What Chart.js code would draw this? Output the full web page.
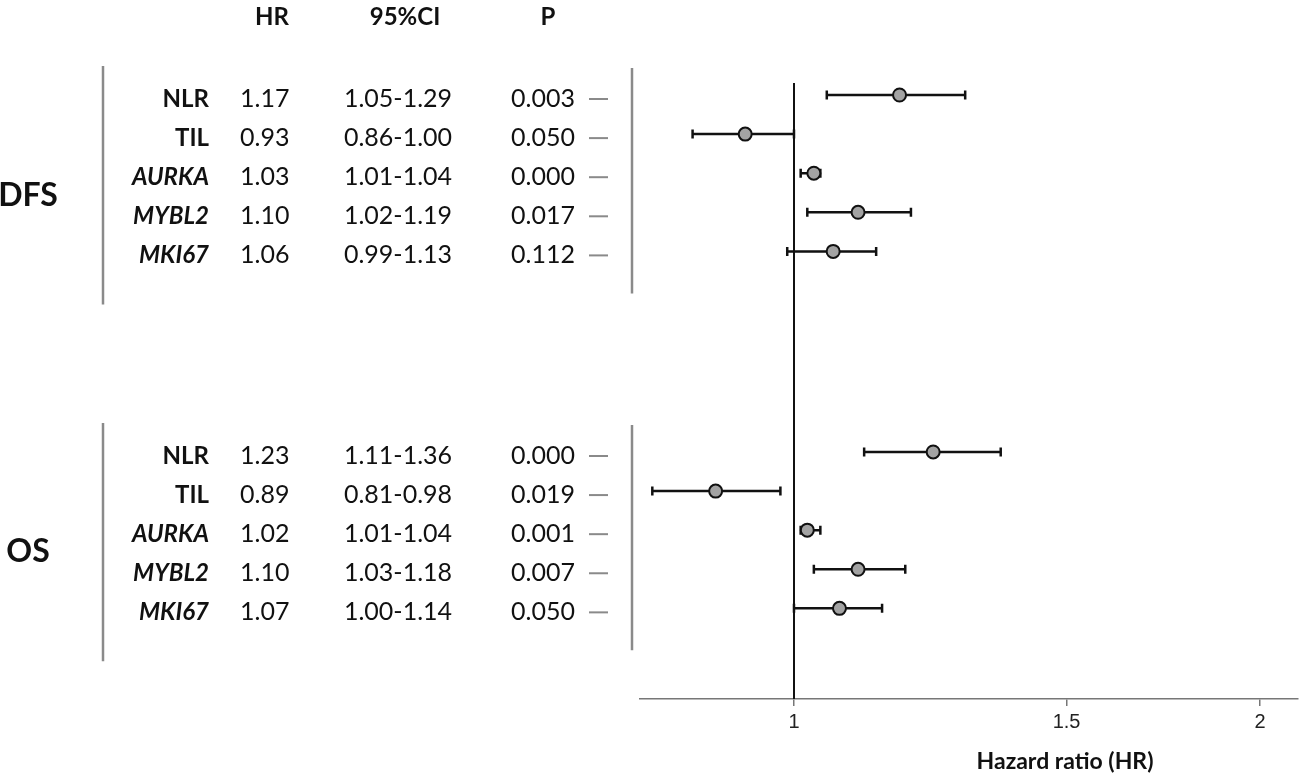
<!DOCTYPE html>
<html>
<head>
<meta charset="utf-8">
<script src="https://cdn.jsdelivr.net/npm/chart.js@4.4.1/dist/chart.umd.min.js"></script>
<style>
  html, body { margin: 0; padding: 0; background: #ffffff; }
  #wrap { width: 1299px; height: 779px; position: relative; }
</style>
</head>
<body>
<div id="wrap"><canvas id="c" width="1299" height="779"></canvas></div>
<script>
// ---- data ----
const groups = ["DFS", "OS"];
const variables = ["NLR", "TIL", "AURKA", "MYBL2", "MKI67"];
const italicVars = ["AURKA", "MYBL2", "MKI67"];
const dfsHR = [1.17, 0.93, 1.03, 1.10, 1.06];
const dfsLow = [1.05, 0.86, 1.01, 1.02, 0.99];
const dfsHigh = [1.29, 1.00, 1.04, 1.19, 1.13];
const dfsP = ["0.003", "0.050", "0.000", "0.017", "0.112"];
const osHR = [1.23, 0.89, 1.02, 1.10, 1.07];
const osLow = [1.11, 0.81, 1.01, 1.03, 1.00];
const osHigh = [1.36, 0.98, 1.04, 1.18, 1.14];
const osP = ["0.000", "0.019", "0.001", "0.007", "0.050"];
const xTicks = [1, 1.5, 2];
const xTickLabels = ["1", "1.5", "2"];
const headers = ["HR", "95%CI", "P"];
const axisTitle = "Hazard ratio (HR)";

// ---- layout constants ----
const GROUP_OFFSET = 9.13; // row units between first DFS row and first OS row
const FONT = "Lato, 'Open Sans', sans-serif";

const rows = [];
[[dfsHR, dfsLow, dfsHigh, dfsP], [osHR, osLow, osHigh, osP]].forEach((g, gi) => {
  variables.forEach((v, i) => {
    rows.push({ group: gi, name: v, hr: g[0][i], lo: g[1][i], hi: g[2][i], p: g[3][i], pos: gi * GROUP_OFFSET + i });
  });
});
const fmt = v => v.toFixed(2);

const forestPlugin = {
  id: 'forest',
  beforeDatasetsDraw(chart) {
    const ctx = chart.ctx, xs = chart.scales.x, ys = chart.scales.y, area = chart.chartArea;
    ctx.save();
    // reference line at HR = 1
    ctx.strokeStyle = '#111';
    ctx.lineWidth = 2;
    const x1 = Math.round(xs.getPixelForValue(1));
    ctx.beginPath();
    ctx.moveTo(x1, area.top);
    ctx.lineTo(x1, area.bottom);
    ctx.stroke();
    // error bars
    ctx.lineWidth = 2.5;
    ctx.strokeStyle = '#111';
    rows.forEach(r => {
      const y = ys.getPixelForValue(r.pos);
      const xl = xs.getPixelForValue(r.lo), xh = xs.getPixelForValue(r.hi);
      ctx.beginPath();
      ctx.moveTo(xl, y); ctx.lineTo(xh, y);
      ctx.moveTo(xl, y - 4.5); ctx.lineTo(xl, y + 4.5);
      ctx.moveTo(xh, y - 4.5); ctx.lineTo(xh, y + 4.5);
      ctx.stroke();
    });
    ctx.restore();
  },
  afterDraw(chart) {
    const ctx = chart.ctx, ys = chart.scales.y, xs = chart.scales.x, area = chart.chartArea;
    ctx.save();
    ctx.fillStyle = '#111';
    ctx.textBaseline = 'middle';

    // x tick labels
    ctx.font = "20px 'Liberation Sans', Arial, sans-serif";
    ctx.fillStyle = '#222';
    ctx.textAlign = 'center';
    xTicks.forEach((v, i) => ctx.fillText(xTickLabels[i], xs.getPixelForValue(v), area.bottom + 23));

    // headers
    ctx.fillStyle = '#111';
    ctx.font = "bold 24px " + FONT;
    const hx = [272, 405, 548];
    headers.forEach((h, i) => ctx.fillText(h, hx[i], 17));

    // group labels + side bars
    groups.forEach((g, gi) => {
      const gRows = rows.filter(r => r.group === gi);
      const yFirst = ys.getPixelForValue(gRows[0].pos);
      const yLast = ys.getPixelForValue(gRows[gRows.length - 1].pos);
      const yMid = (yFirst + yLast) / 2;
      ctx.fillStyle = '#111';
      ctx.font = "bold 32px " + FONT;
      ctx.textAlign = 'center';
      ctx.fillText(g, 28, yMid + 22);
      ctx.strokeStyle = '#8a8a8a';
      ctx.lineWidth = 2.5;
      ctx.beginPath();
      ctx.moveTo(103, yFirst - 29); ctx.lineTo(103, yLast + 53);
      ctx.moveTo(632, yFirst - 27); ctx.lineTo(632, yLast + 42);
      ctx.stroke();
    });

    // rows
    rows.forEach(r => {
      const y = ys.getPixelForValue(r.pos) + 4;
      ctx.fillStyle = '#111';
      ctx.font = (italicVars.includes(r.name) ? "italic bold 24px " : "bold 24px ") + FONT;
      ctx.textAlign = 'right';
      ctx.fillText(r.name, 209, y);
      ctx.font = "25px " + FONT;
      ctx.textAlign = 'left';
      ctx.fillText(fmt(r.hr), 240, y);
      ctx.textAlign = 'center';
      ctx.fillText(fmt(r.lo) + "-" + fmt(r.hi), 398, y);
      ctx.fillText(r.p, 543, y);
      ctx.strokeStyle = '#8a8a8a';
      ctx.lineWidth = 2;
      ctx.beginPath();
      ctx.moveTo(589, y); ctx.lineTo(608, y);
      ctx.stroke();
    });

    // axis title
    ctx.fillStyle = '#111';
    ctx.font = "bold 23px " + FONT;
    ctx.textAlign = 'center';
    ctx.fillText(axisTitle, 1065, 762);
    ctx.restore();
  }
};

new Chart(document.getElementById('c'), {
  type: 'scatter',
  data: {
    datasets: [{
      data: rows.map(r => ({ x: r.hr, y: r.pos })),
      pointRadius: 6.5,
      pointHoverRadius: 6.5,
      pointBackgroundColor: '#a3a3a3',
      pointBorderColor: '#111',
      pointBorderWidth: 2,
      clip: false
    }]
  },
  options: {
    responsive: false,
    devicePixelRatio: 1,
    animation: false,
    events: [],
    layout: { autoPadding: false, padding: { left: 640, right: 1, top: 83, bottom: 0 } },
    plugins: { legend: { display: false }, tooltip: { enabled: false } },
    scales: {
      x: {
        type: 'logarithmic',
        min: 0.7953,
        max: 2.1163,
        afterBuildTicks: s => { s.ticks = xTicks.map(v => ({ value: v })); },
        afterFit: s => { s.height = 80; s.paddingLeft = 0; s.paddingRight = 0; },
        ticks: { display: false },
        grid: { drawOnChartArea: false, drawTicks: true, tickLength: 7, color: '#777', lineWidth: 1.5 },
        border: { display: true, color: '#777', width: 1.5 }
      },
      y: {
        type: 'linear',
        display: false,
        reverse: true,
        min: -0.307,
        max: 15.448
      }
    }
  },
  plugins: [forestPlugin]
});
</script>
</body>
</html>
